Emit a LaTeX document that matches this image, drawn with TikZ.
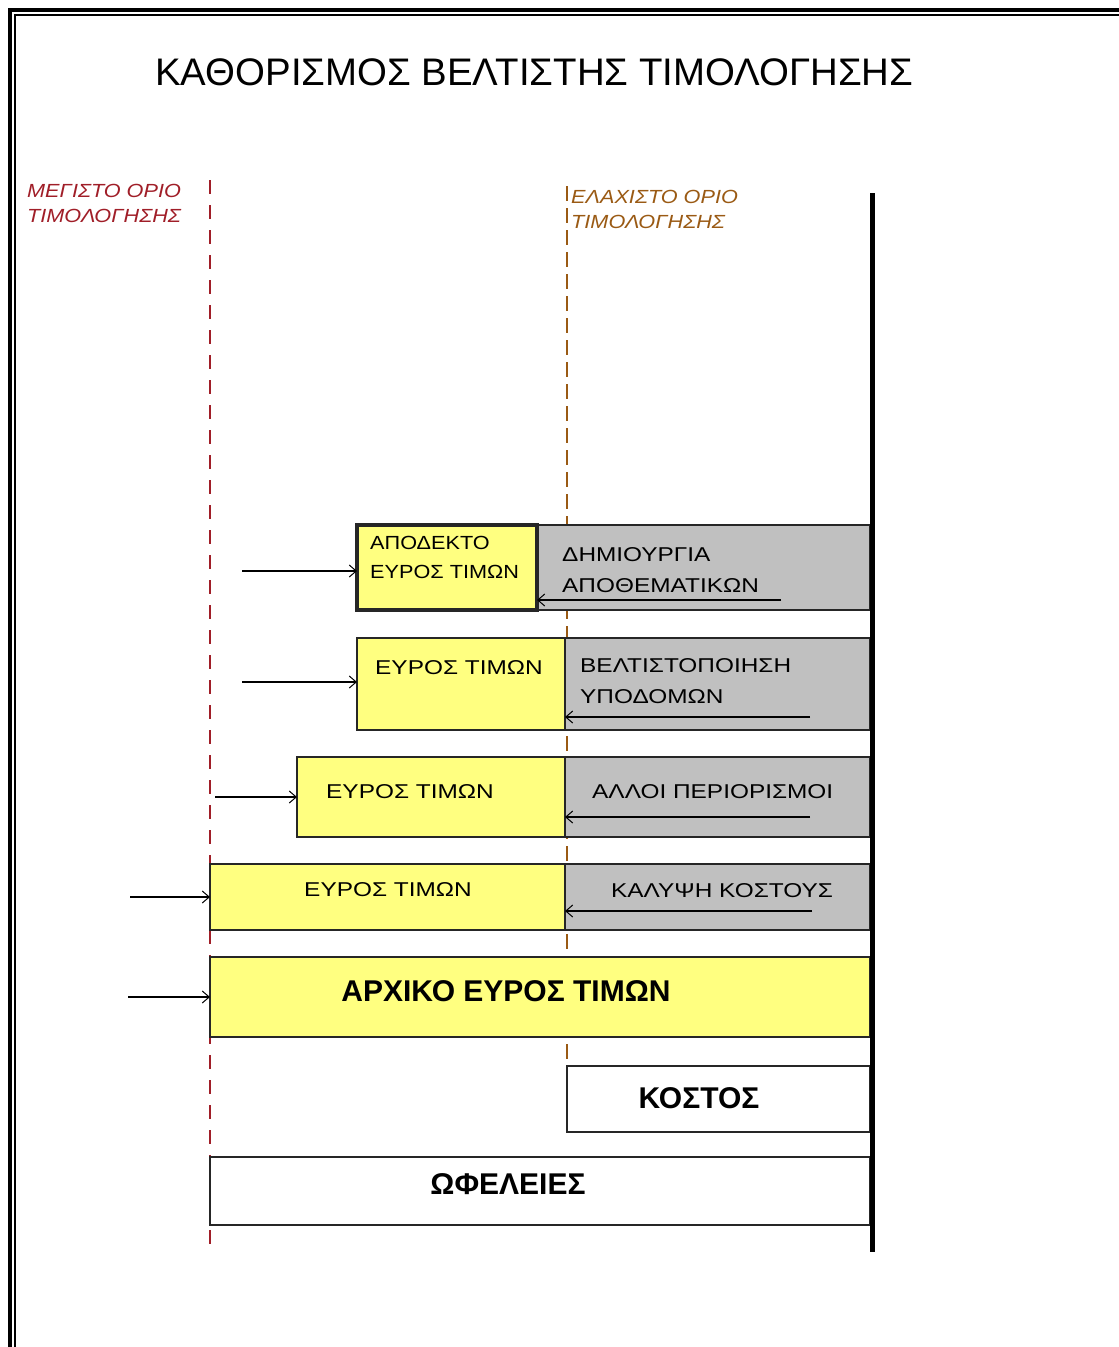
\documentclass[tikz,border=0pt]{standalone}
\usepackage{fontspec}
\setmainfont{Liberation Sans}
\newfontfamily\wideface[FakeStretch=1.22]{Liberation Sans}
\newfontfamily\midface[FakeStretch=1.14]{Liberation Sans}
\usetikzlibrary{arrows.meta}
\definecolor{boxyellow}{HTML}{FFFF80}
\definecolor{boxgray}{HTML}{C0C0C0}
\definecolor{maxred}{HTML}{A01E28}
\definecolor{minbrown}{HTML}{9A5A14}
\tikzset{
  x=1pt, y=-1pt,
  ybox/.style={draw=black!85, line width=1.5pt, fill=boxyellow, anchor=north west, inner sep=0pt, outer sep=0pt},
  gbox/.style={draw=black!85, line width=1.5pt, fill=boxgray, anchor=north west, inner sep=0pt, outer sep=0pt},
  wbox/.style={draw=black!85, line width=1.5pt, fill=white, anchor=north west, inner sep=0pt, outer sep=0pt},
  lbl/.style={anchor=base west, inner sep=0pt, font=\wideface\fontsize{20}{31}\selectfont, align=left},
  blbl/.style={anchor=base, inner sep=0pt, font=\fontsize{30}{32}\selectfont\bfseries},
  limlbl/.style={anchor=base west, inner sep=0pt, font=\midface\fontsize{19}{25}\selectfont\itshape, align=left},
  inarrow/.style={draw=black, line width=1.6pt, -{Straight Barb[length=7pt,width=12pt,line width=1pt]}},
  limitline/.style={line width=2pt, dash pattern=on 14pt off 11pt},
}
\begin{document}
\begin{tikzpicture}
\useasboundingbox (0,0) rectangle (1119,1347);
% frame
\draw[line width=4pt] (10,1347) -- (10,10) -- (1119,10);
\draw[line width=2pt] (15,1347) -- (15,15) -- (1119,15);
% title
\node[anchor=base west, inner sep=0pt, font=\fontsize{38.4}{40}\selectfont] (title) at (155,85) {ΚΑΘΟΡΙΣΜΟΣ ΒΕΛΤΙΣΤΗΣ ΤΙΜΟΛΟΓΗΣΗΣ};
% limit lines
\coordinate (maxtop) at (210,180);
\coordinate (maxbot) at (210,1250);
\coordinate (mintop) at (567,186);
\coordinate (minbot) at (567,1062);
\draw[limitline, draw=maxred] (maxtop) -- (maxbot);
\draw[limitline, draw=minbrown, dash pattern=on 15pt off 7pt] (mintop) -- (minbot);
\node[limlbl, text=maxred] (maxlbl) at (27,222) {ΜΕΓΙΣΤΟ ΟΡΙΟ\\ΤΙΜΟΛΟΓΗΣΗΣ};
\node[limlbl, text=minbrown] (minlbl) at (571,228) {ΕΛΑΧΙΣΤΟ ΟΡΙΟ\\ΤΙΜΟΛΟΓΗΣΗΣ};
% axis line
\coordinate (axtop) at (872,193);
\coordinate (axbot) at (872,1252);
% row 1
\node[gbox, minimum width=333pt, minimum height=85pt] (g1) at (537,525) {};
\node[ybox, line width=4pt, minimum width=180pt, minimum height=85pt] (y1) at (357,525) {};
\node[lbl, font=\midface\fontsize{19}{29}\selectfont] (t1) at (370,578) {ΑΠΟΔΕΚΤΟ\\ΕΥΡΟΣ ΤΙΜΩΝ};
\node[lbl] (u1) at (562,592) {ΔΗΜΙΟΥΡΓΙΑ\\ΑΠΟΘΕΜΑΤΙΚΩΝ};
% row 2
\node[gbox, minimum width=305pt, minimum height=92pt] (g2) at (565,638) {};
\node[ybox, minimum width=208pt, minimum height=92pt] (y2) at (357,638) {};
\node[lbl] (t2) at (375,674) {ΕΥΡΟΣ ΤΙΜΩΝ};
\node[lbl] (u2) at (580,703) {ΒΕΛΤΙΣΤΟΠΟΙΗΣΗ\\ΥΠΟΔΟΜΩΝ};
% row 3
\node[gbox, minimum width=305pt, minimum height=80pt] (g3) at (565,757) {};
\node[ybox, minimum width=268pt, minimum height=80pt] (y3) at (297,757) {};
\node[lbl] (t3) at (326,798) {ΕΥΡΟΣ ΤΙΜΩΝ};
\node[lbl] (u3) at (592,798) {ΑΛΛΟΙ ΠΕΡΙΟΡΙΣΜΟΙ};
% row 4
\node[gbox, minimum width=305pt, minimum height=66pt] (g4) at (565,864) {};
\node[ybox, minimum width=355pt, minimum height=66pt] (y4) at (210,864) {};
\node[lbl, anchor=base] (t4) at (388,896) {ΕΥΡΟΣ ΤΙΜΩΝ};
\node[lbl, anchor=base] (u4) at (722,897) {ΚΑΛΥΨΗ ΚΟΣΤΟΥΣ};
% row 5
\node[ybox, minimum width=660pt, minimum height=80pt] (y5) at (210,957) {};
\node[blbl] (t5) at (506,1001) {ΑΡΧΙΚΟ ΕΥΡΟΣ ΤΙΜΩΝ};
% cost
\node[wbox, minimum width=303pt, minimum height=66pt] (cost) at (567,1066) {};
\node[blbl] (tc) at (699,1108) {ΚΟΣΤΟΣ};
% benefits
\node[wbox, minimum width=660pt, minimum height=68pt] (ben) at (210,1157) {};
\node[blbl] (tb) at (508,1194) {ΩΦΕΛΕΙΕΣ};
% axis drawn on top
\draw[line width=5pt] (axtop) -- (axbot);
% input arrows
\coordinate (in1) at (242,571);
\coordinate (in2) at (242,682);
\coordinate (in3) at (215,797);
\coordinate (in4) at (130,897);
\coordinate (in5) at (128,997);
\draw[inarrow] (in1) -- (in1 -| y1.west);
\draw[inarrow] (in2) -- (in2 -| y2.west);
\draw[inarrow] (in3) -- (in3 -| y3.west);
\draw[inarrow] (in4) -- (in4 -| y4.west);
\draw[inarrow] (in5) -- (in5 -| y5.west);
% inner arrows
\coordinate (r1) at (781,600);
\coordinate (r2) at (810,717);
\coordinate (r3) at (810,817);
\coordinate (r4) at (812,911);
\draw[inarrow] (r1) -- (r1 -| y1.east);
\draw[inarrow] (r2) -- (r2 -| g2.west);
\draw[inarrow] (r3) -- (r3 -| g3.west);
\draw[inarrow] (r4) -- (r4 -| g4.west);
\end{tikzpicture}
\end{document}
